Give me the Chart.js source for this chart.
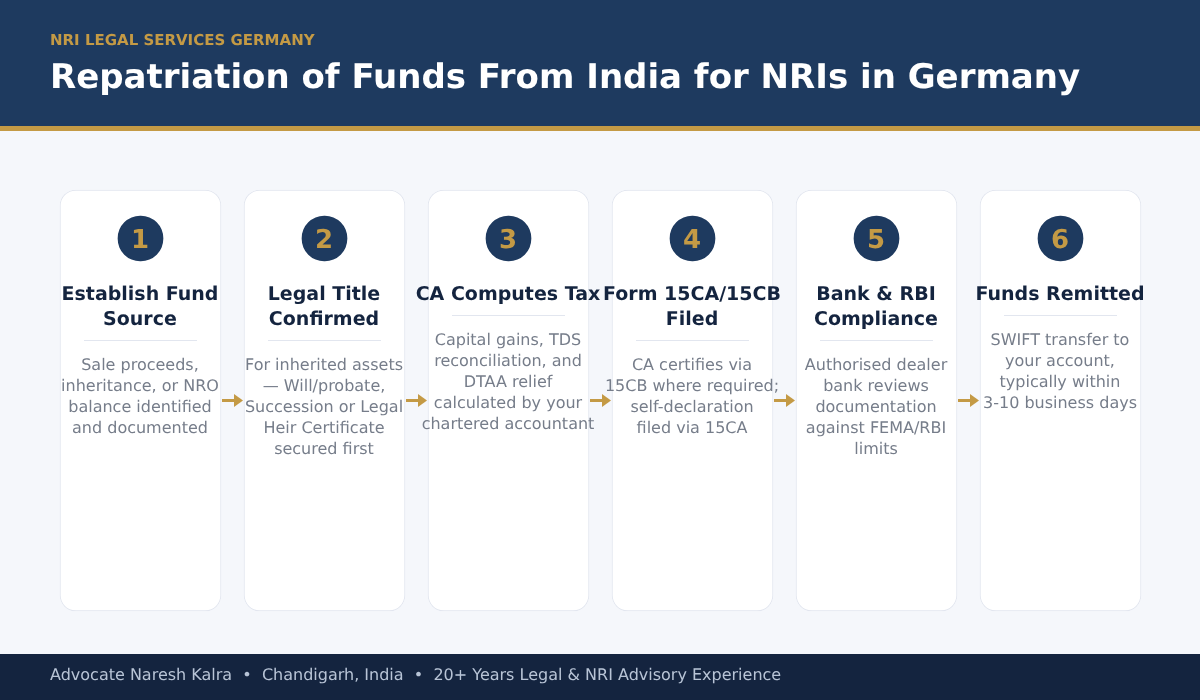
<!DOCTYPE html>
<html>
<head>
<meta charset="utf-8">
<title>Repatriation of Funds From India for NRIs in Germany</title>
<script src="https://cdn.jsdelivr.net/npm/chart.js@4"></script>
<style>
  html, body { margin: 0; padding: 0; background: #f5f7fb; }
  #wrap { position: relative; width: 1200px; height: 700px; overflow: hidden; }
  #chart, #texts { position: absolute; left: 0; top: 0; }
  #texts { font-family: "DejaVu Sans", sans-serif; text-rendering: geometricPrecision; }
</style>
</head>
<body>
<div id="wrap">
  <canvas id="chart" width="1200" height="700"></canvas>
  <svg id="texts" width="1200" height="700" xmlns="http://www.w3.org/2000/svg"></svg>
</div>
<script>
const eyebrow = 'NRI LEGAL SERVICES GERMANY';
const heading = 'Repatriation of Funds From India for NRIs in Germany';
const footerText = 'Advocate Naresh Kalra  \u2022  Chandigarh, India  \u2022  20+ Years Legal & NRI Advisory Experience';

const stepNumbers = ['1', '2', '3', '4', '5', '6'];
const stepTitles = [
  ['Establish Fund', 'Source'],
  ['Legal Title', 'Confirmed'],
  ['CA Computes Tax'],
  ['Form 15CA/15CB', 'Filed'],
  ['Bank & RBI', 'Compliance'],
  ['Funds Remitted']
];
const stepTexts = [
  ['Sale proceeds,', 'inheritance, or NRO', 'balance identified', 'and documented'],
  ['For inherited assets', '\u2014 Will/probate,', 'Succession or Legal', 'Heir Certificate', 'secured first'],
  ['Capital gains, TDS', 'reconciliation, and', 'DTAA relief', 'calculated by your', 'chartered accountant'],
  ['CA certifies via', '15CB where required;', 'self-declaration', 'filed via 15CA'],
  ['Authorised dealer', 'bank reviews', 'documentation', 'against FEMA/RBI', 'limits'],
  ['SWIFT transfer to', 'your account,', 'typically within', '3-10 business days']
];

const NAVY = '#1e3a5f';
const GOLD = '#c49a45';
const DARK = '#14243f';
const GREY = '#767d8a';
const LINE = '#e2e6ef';

const svg = document.getElementById('texts');

function put(str, x, y, size, weight, color, anchor) {
  const t = document.createElementNS('http://www.w3.org/2000/svg', 'text');
  t.setAttribute('x', x);
  t.setAttribute('y', y);
  t.setAttribute('font-size', size);
  t.setAttribute('font-weight', weight);
  t.setAttribute('fill', color);
  t.setAttribute('text-anchor', anchor);
  t.style.whiteSpace = 'pre';
  t.textContent = str;
  svg.appendChild(t);
}

// header and footer bands go behind the datasets
const bands = {
  id: 'bands',
  beforeDraw(chart) {
    const { ctx, scales: { y } } = chart;
    const w = chart.width;
    ctx.save();
    ctx.fillStyle = '#f5f7fb';
    ctx.fillRect(0, 0, w, chart.height);
    ctx.fillStyle = NAVY;
    ctx.fillRect(0, y.getPixelForValue(0), w, y.getPixelForValue(126));
    ctx.fillStyle = GOLD;
    ctx.fillRect(0, y.getPixelForValue(126), w, 5);
    ctx.fillStyle = DARK;
    ctx.fillRect(0, y.getPixelForValue(654), w, 46);
    ctx.restore();
  }
};

// dividers and arrows on the canvas, text in the svg on top
const labels = {
  id: 'labels',
  afterDatasetsDraw(chart) {
    const { ctx, scales: { x, y } } = chart;
    ctx.save();
    stepNumbers.forEach((num, i) => {
      // bars sit half a pixel right so their 1px border is crisp
      const cx = x.getPixelForValue(i) - 0.5;
      const ruleY = y.getPixelForValue(315 + (stepTitles[i].length - 1) * 25) + 0.5;
      ctx.strokeStyle = LINE;
      ctx.lineWidth = 1;
      ctx.beginPath();
      ctx.moveTo(cx - 56, ruleY);
      ctx.lineTo(cx + 57, ruleY);
      ctx.stroke();

      if (i < stepNumbers.length - 1) {
        const ay = y.getPixelForValue(400.5);
        ctx.fillStyle = GOLD;
        ctx.fillRect(cx + 82, ay - 1.5, 13, 3);
        ctx.beginPath();
        ctx.moveTo(cx + 94, ay - 6.5);
        ctx.lineTo(cx + 103, ay);
        ctx.lineTo(cx + 94, ay + 6.5);
        ctx.closePath();
        ctx.fill();
      }
    });
    ctx.restore();

    svg.textContent = '';
    put(eyebrow, 50, y.getPixelForValue(44.5), 15, 'bold', GOLD, 'start');
    put(heading, 50, y.getPixelForValue(88), 34, 'bold', '#ffffff', 'start');
    put(footerText, 50, y.getPixelForValue(679.5), 16, 'normal', '#b8c4d6', 'start');
    stepNumbers.forEach((num, i) => {
      const cx = x.getPixelForValue(i) - 0.5;
      const extra = (stepTitles[i].length - 1) * 25;
      put(num, cx, y.getPixelForValue(248), 26, 'bold', GOLD, 'middle');
      stepTitles[i].forEach((line, k) => {
        put(line, cx, y.getPixelForValue(300 + k * 25), 19, 'bold', DARK, 'middle');
      });
      stepTexts[i].forEach((line, k) => {
        put(line, cx, y.getPixelForValue(344.5 + extra + k * 21), 16, 'normal', GREY, 'middle');
      });
    });
  }
};

new Chart(document.getElementById('chart'), {
  type: 'bar',
  data: {
    labels: stepNumbers,
    datasets: [
      {
        // number badges
        data: stepNumbers.map(() => [216, 261]),
        grouped: false,
        barThickness: 45,
        backgroundColor: NAVY,
        borderWidth: 0,
        borderRadius: 23,
        borderSkipped: false,
        order: 0
      },
      {
        // cards
        data: stepNumbers.map(() => [190, 611]),
        grouped: false,
        barThickness: 161,
        backgroundColor: '#ffffff',
        borderColor: LINE,
        borderWidth: 1,
        borderRadius: 16,
        borderSkipped: false,
        order: 1
      }
    ]
  },
  options: {
    responsive: false,
    animation: false,
    layout: { padding: { left: 48.5, right: 47.5, top: 0, bottom: 0 } },
    plugins: { legend: { display: false }, tooltip: { enabled: false } },
    scales: {
      x: { type: 'category', display: false, offset: true },
      y: { type: 'linear', display: false, reverse: true, min: 0, max: 700 }
    }
  },
  plugins: [bands, labels]
});
</script>
</body>
</html>
